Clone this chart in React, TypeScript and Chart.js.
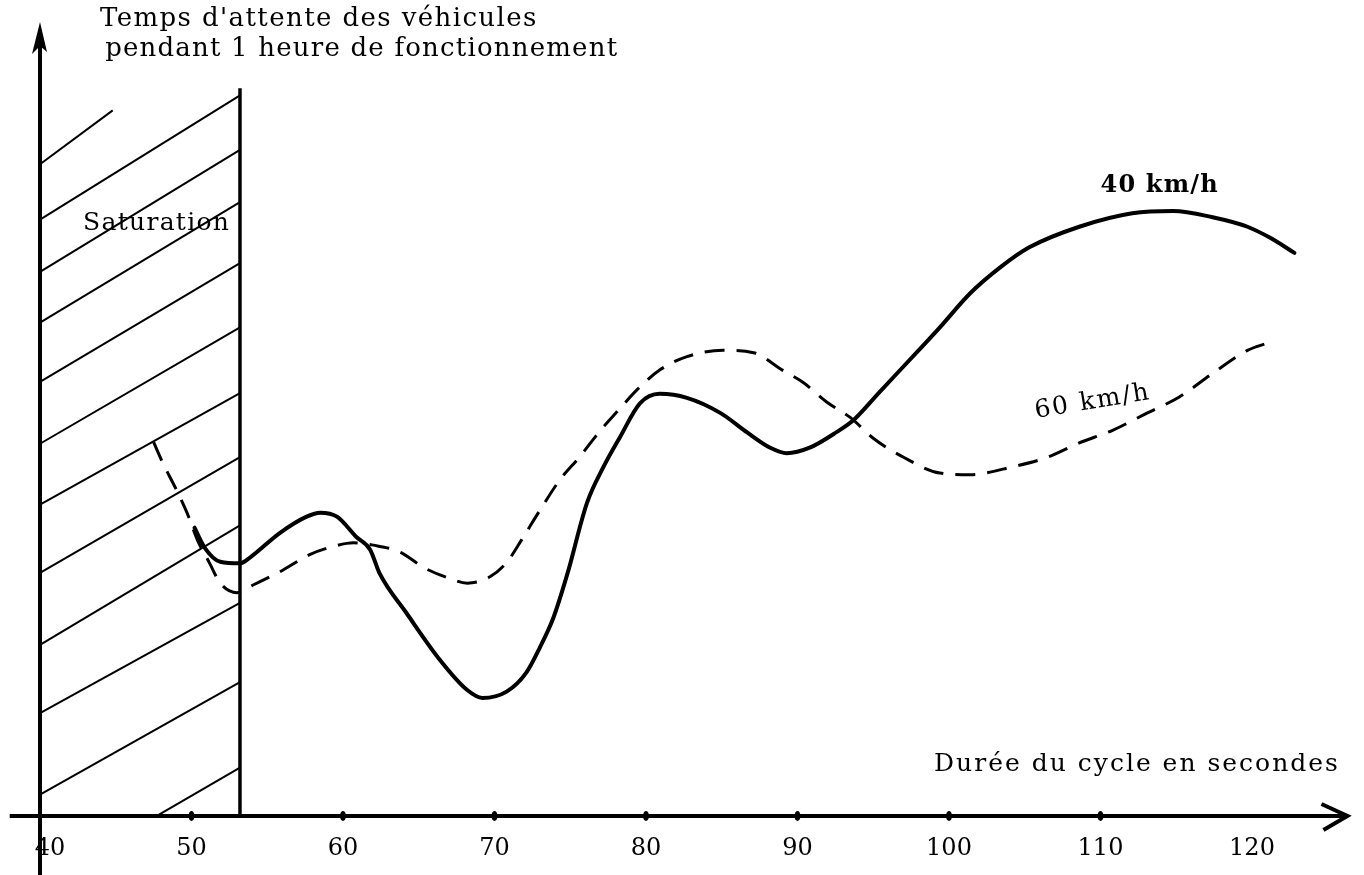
import React, { useEffect, useRef } from "react";
import { Chart, registerables } from "chart.js";

Chart.register(...registerables);

// x axis: durée du cycle (s)
const cycleTicks = [40, 50, 60, 70, 80, 90, 100, 110, 120];
const tickLabels = ["40", "50", "60", "70", "80", "90", "100", "110", "120"];

// 40 km/h (solid)
const speed40X = [50.2, 50.9, 51.9, 53.2, 53.9, 55.8, 57.6, 58.5, 59.6, 60.9, 61.8, 62.4, 64.2, 66.4, 68.2, 69.2, 70.8, 72.1, 73.0, 73.9, 74.8, 76.1, 77.2, 78.3, 79.6, 80.9, 82.7, 84.9, 86.7, 88.2, 89.3, 90.8, 92.6, 93.7, 95.4, 97.9, 99.4, 101.4, 103.4, 105.3, 108.6, 112.1, 114.8, 117.4, 119.7, 121.2, 122.8];
const speed40Y = [36.4, 33.8, 32.1, 31.9, 32.7, 35.7, 37.8, 38.3, 37.8, 35.2, 33.6, 30.7, 25.6, 19.7, 15.9, 14.9, 15.7, 18.1, 21.3, 25.1, 30.5, 39.5, 44.1, 47.9, 52.1, 53.3, 52.8, 50.9, 48.4, 46.5, 45.8, 46.5, 48.5, 50.0, 53.5, 58.6, 61.7, 66.0, 69.3, 71.8, 74.4, 76.1, 76.4, 75.6, 74.4, 73.0, 71.1];

// 60 km/h (dashed)
const speed60X = [47.5, 48.1, 49.0, 49.7, 50.4, 51.2, 51.9, 53.0, 54.1, 55.8, 57.8, 59.3, 60.7, 62.0, 63.8, 65.3, 66.9, 68.2, 69.7, 70.8, 71.8, 72.9, 74.3, 75.6, 77.0, 78.3, 79.4, 80.9, 82.7, 85.1, 87.1, 89.0, 90.4, 91.9, 93.5, 95.0, 97.0, 99.4, 101.4, 104.2, 106.5, 108.6, 110.8, 113.1, 115.2, 117.4, 119.7, 121.0];
const speed60Y = [47.2, 44.6, 41.2, 38.3, 34.8, 31.9, 29.4, 28.2, 29.2, 30.8, 33.0, 34.0, 34.5, 34.2, 33.3, 31.4, 30.1, 29.4, 30.2, 32.0, 34.9, 38.3, 42.4, 45.3, 48.7, 51.5, 53.8, 56.3, 58.0, 58.8, 58.5, 56.3, 54.7, 52.3, 50.3, 47.7, 45.3, 43.3, 43.1, 44.1, 45.3, 47.1, 48.7, 50.9, 52.9, 55.9, 58.8, 59.7];

// saturation zone
const saturationEnd = 53.2;
const saturationTop = 91.9;

// hatch segments of the saturation zone
const hatchX0 = [40, 40, 40, 40, 40, 40, 40, 40, 40, 40, 40, 47.8];
const hatchY0 = [82.3, 75.3, 68.7, 62.3, 54.8, 47.0, 39.3, 30.7, 21.6, 13.0, 2.7, 0.1];
const hatchX1 = [44.8, 53.2, 53.2, 53.2, 53.2, 53.2, 53.2, 53.2, 53.2, 53.2, 53.2, 53.2];
const hatchY1 = [89.1, 91.0, 84.1, 77.5, 69.8, 61.7, 53.4, 45.3, 36.7, 26.9, 16.9, 6.1];

// axis extents
const xAxisStart = 38.0;
const xAxisEnd = 126.3;
const yAxisTop = 100;

const FONT = "'DejaVu Serif', serif";

const sketchPlugin = {
  id: "sketch",
  afterDatasetsDraw(chart: any) {
    const { ctx } = chart;
    const xs = chart.scales.x;
    const ys = chart.scales.y;
    const px = (v: number) => xs.getPixelForValue(v);
    const py = (v: number) => ys.getPixelForValue(v);
    const ax = px(cycleTicks[0]);
    const ay = py(0);
    ctx.save();
    ctx.strokeStyle = "#000";
    ctx.fillStyle = "#000";

    // x axis
    ctx.lineWidth = 4;
    ctx.beginPath();
    ctx.moveTo(px(xAxisStart), ay);
    ctx.lineTo(px(xAxisEnd), ay);
    ctx.stroke();
    // chevron arrow
    const tipX = px(xAxisEnd);
    ctx.lineWidth = 4;
    ctx.lineJoin = "miter";
    ctx.beginPath();
    ctx.moveTo(tipX - 26, ay - 12);
    ctx.lineTo(tipX, ay);
    ctx.lineTo(tipX - 24, ay + 14);
    ctx.stroke();

    // y axis
    const tipY = py(yAxisTop);
    ctx.lineWidth = 4;
    ctx.beginPath();
    ctx.moveTo(ax, chart.height);
    ctx.lineTo(ax, tipY + 6);
    ctx.stroke();
    ctx.beginPath();
    ctx.moveTo(ax, tipY - 2);
    ctx.lineTo(ax - 8, tipY + 30);
    ctx.lineTo(ax, tipY + 22);
    ctx.lineTo(ax + 7, tipY + 28);
    ctx.closePath();
    ctx.fill();

    // tick blobs
    cycleTicks.forEach((t) => {
      if (t === cycleTicks[0] || t === cycleTicks[cycleTicks.length - 1]) return;
      ctx.beginPath();
      ctx.ellipse(px(t), ay, 3, 5, 0, 0, Math.PI * 2);
      ctx.fill();
    });

    // tick labels
    ctx.font = `24px ${FONT}`;
    ctx.textAlign = "center";
    ctx.textBaseline = "middle";
    cycleTicks.forEach((t, i) => {
      const off = i === 0 ? 10 : 0;
      ctx.fillText(tickLabels[i], px(t) + off, ay + 33);
    });

    // texts
    const text = (
      s: string,
      x: number,
      y: number,
      font: string,
      spacing: number,
      align: CanvasTextAlign = "left",
      rot = 0
    ) => {
      ctx.save();
      ctx.font = font;
      (ctx as any).letterSpacing = `${spacing}px`;
      ctx.textAlign = align;
      ctx.textBaseline = "alphabetic";
      ctx.translate(px(x), py(y));
      if (rot) ctx.rotate(rot);
      ctx.fillText(s, 0, 0);
      ctx.restore();
    };
    text("Temps d'attente des véhicules", 43.96, 99.75, `26px ${FONT}`, 1.4);
    text("pendant 1 heure de fonctionnement", 44.3, 95.96, `26px ${FONT}`, 1.2);
    text("Saturation", 42.84, 74.0, `25px ${FONT}`, 1.3);
    text("40 km/h", 110.0, 78.8, `bold 24px ${FONT}`, 1.2);
    text("60 km/h", 105.74, 50.25, `25px ${FONT}`, 2, "left", (-9.5 * Math.PI) / 180);
    text("Durée du cycle en secondes", 125.8, 5.68, `25px ${FONT}`, 2, "right");

    ctx.restore();
  },
};

export default function App() {
  const ref = useRef<HTMLCanvasElement>(null);
  useEffect(() => {
    document.body.style.margin = "0";
    const canvas = ref.current!;
    const hatchSets = hatchX0.map((x0, i) => ({
      data: [
        { x: x0, y: hatchY0[i] },
        { x: hatchX1[i], y: hatchY1[i] },
      ],
      borderColor: "#000",
      borderWidth: 2,
      pointRadius: 0,
      tension: 0,
    }));
    const chart = new Chart(canvas, {
      type: "line",
      data: {
        datasets: [
          ...hatchSets,
          {
            data: [
              { x: saturationEnd, y: 0 },
              { x: saturationEnd, y: saturationTop },
            ],
            borderColor: "#000",
            borderWidth: 3.5,
            pointRadius: 0,
          },
          {
            label: "40 km/h",
            data: speed40X.map((x, i) => ({ x, y: speed40Y[i] })),
            borderColor: "#000",
            borderWidth: 4,
            pointRadius: 0,
            cubicInterpolationMode: "monotone",
            borderCapStyle: "round",
          },
          {
            label: "60 km/h",
            data: speed60X.map((x, i) => ({ x, y: speed60Y[i] })),
            borderColor: "#000",
            borderWidth: 3,
            borderDash: [20, 12],
            pointRadius: 0,
            cubicInterpolationMode: "monotone",
          },
        ] as any,
      },
      options: {
        responsive: false,
        maintainAspectRatio: false,
        animation: false,
        layout: { padding: { left: 9.7, right: 5.95, top: 8.16, bottom: 3.56 } },
        plugins: { legend: { display: false }, tooltip: { enabled: false } },
        scales: {
          x: { type: "linear", min: 38, max: 127, display: false },
          y: { type: "linear", min: -7, max: 102, display: false },
        },
      },
      plugins: [sketchPlugin],
    });
    return () => chart.destroy();
  }, []);
  return (
    <div style={{ position: "absolute", left: 0, top: 0, width: 1364, height: 875, background: "#fff" }}>
      <canvas ref={ref} width={1364} height={875} style={{ width: 1364, height: 875, display: "block" }} />
    </div>
  );
}
